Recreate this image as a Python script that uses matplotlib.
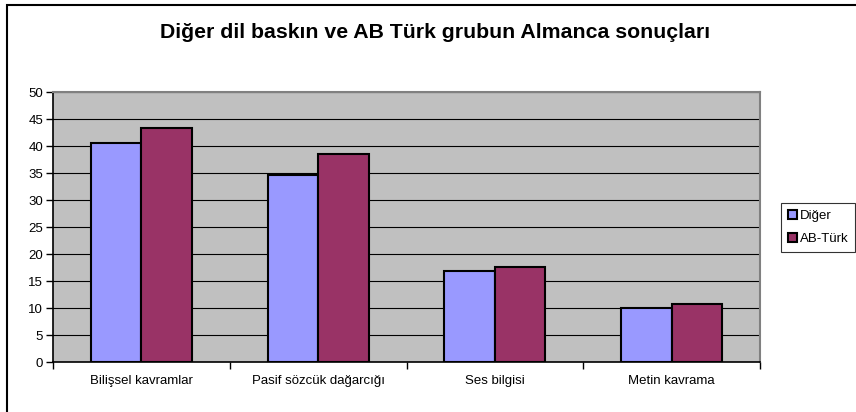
import matplotlib
matplotlib.use("Agg")
import matplotlib.pyplot as plt
import numpy as np
from matplotlib.patches import Rectangle, Patch

categories = ["Bilişsel kavramlar", "Pasif sözcük dağarcığı", "Ses bilgisi", "Metin kavrama"]
diger = [40.6, 34.6, 16.9, 10.1]
ab_turk = [43.3, 38.5, 17.6, 10.8]
series_names = ["Diğer", "AB-Türk"]
title = "Diğer dil baskın ve AB Türk grubun Almanca sonuçları"

plt.rcParams['font.family'] = ['Liberation Sans', 'DejaVu Sans']

W, H = 856, 412
fig = plt.figure(figsize=(W/100, H/100), dpi=100)
ax = fig.add_axes([53/W, 1-362.3/H, (760-53)/W, (362.3-92.3)/H])
ax.set_facecolor('#C0C0C0')

x = np.arange(len(categories))
bw = 0.286
ax.bar(x - bw/2, diger, bw, color='#9999FF', edgecolor='black', linewidth=1.5, zorder=3, label=series_names[0])
ax.bar(x + bw/2, ab_turk, bw, color='#993366', edgecolor='black', linewidth=1.5, zorder=3, label=series_names[1])

ax.set_xlim(-0.5, len(categories) - 0.5)
ax.set_ylim(0, 50)
ax.set_yticks(np.arange(0, 51, 5))
ax.yaxis.grid(True, color='black', linewidth=0.8, zorder=1)
ax.set_axisbelow(True)

ax.set_xticks(np.arange(-0.5, len(categories), 1.0))
ax.set_xticklabels([])
ax.set_xticks(x, minor=True)
ax.set_xticklabels(categories, minor=True, fontsize=9.5)
ax.tick_params(axis='x', which='minor', length=0, pad=9)
ax.tick_params(axis='x', which='major', length=5, width=1, direction='out')
ax.tick_params(axis='y', length=5, width=1, direction='out', labelsize=9.5, pad=2)

for s in ['top', 'right']:
    ax.spines[s].set_color('#808080')
    ax.spines[s].set_linewidth(1.5)
for s in ['left', 'bottom']:
    ax.spines[s].set_color('black')
    ax.spines[s].set_linewidth(1.2)

fig.text(435/W, 1-32/H, title, ha='center', va='center', fontsize=15.3, fontweight='bold')

# outer chart frame (clipped at right/bottom as in reference)
fig.patches.append(Rectangle((6.5/W, -0.05), 1.0, 1-5/H + 0.05, transform=fig.transFigure,
                             fill=False, edgecolor='black', linewidth=1.5, zorder=0))

handles = [Patch(facecolor='#9999FF', edgecolor='black', linewidth=1.5),
           Patch(facecolor='#993366', edgecolor='black', linewidth=1.5)]
leg = fig.legend(handles, series_names, loc='upper left', bbox_to_anchor=(781/W, 1-203.3/H),
                 frameon=True, fancybox=False, edgecolor='black', fontsize=9.5,
                 handlelength=0.7, handleheight=0.7, handletextpad=0.2,
                 borderpad=0.5, labelspacing=0.8, borderaxespad=0)
leg.get_frame().set_linewidth(0.8)

fig.savefig('out.png', dpi=100)
